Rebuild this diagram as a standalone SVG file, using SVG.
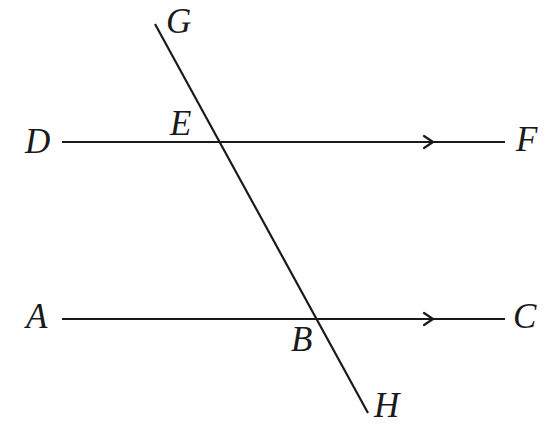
<svg xmlns="http://www.w3.org/2000/svg" width="554" height="430" viewBox="0 0 554 430">
<style>
.ln{stroke:#1a1a1a;stroke-width:2.2;fill:none}
.ar{stroke:#1a1a1a;stroke-width:2.2;fill:none;stroke-linecap:round;stroke-linejoin:round}
.lb{font-family:'Liberation Serif','DejaVu Serif',serif;font-style:italic;font-size:35px;fill:#1a1a1a}
</style>
<rect width="554" height="430" fill="#fff"/>
<g id="connectors">
<line class="ln" x1="62" y1="142" x2="505" y2="142"/>
<polyline class="ar" points="424,136 433,142 424,148"/>
<line class="ln" x1="62" y1="319" x2="505" y2="319"/>
<polyline class="ar" points="424,313 433,319 424,325"/>
<line class="ln" x1="155" y1="24" x2="368" y2="413"/>
</g>
<g id="labels">
<text class="lb" x="166" y="33">G</text>
<text class="lb" x="170" y="135">E</text>
<text class="lb" x="25" y="153">D</text>
<text class="lb" x="516" y="151">F</text>
<text class="lb" x="26" y="328">A</text>
<text class="lb" x="513" y="328">C</text>
<text class="lb" x="291" y="351">B</text>
<text class="lb" x="374" y="417">H</text>
</g>
</svg>
